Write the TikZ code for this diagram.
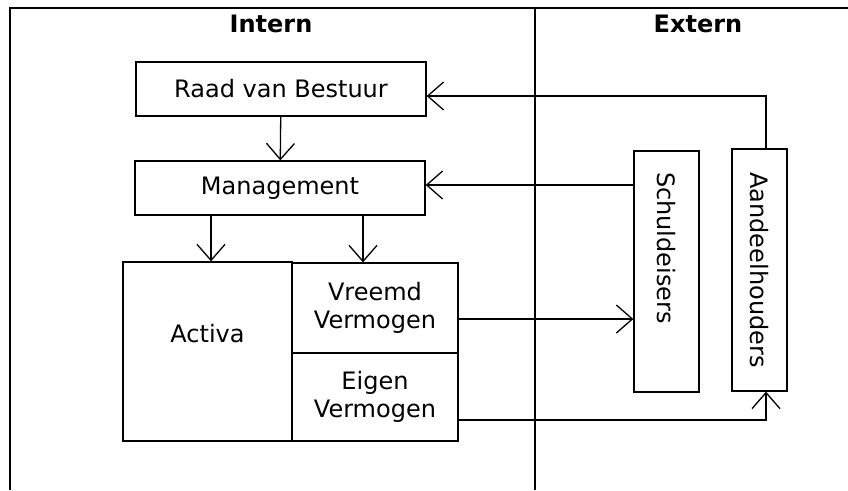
\documentclass[tikz,border=0pt]{standalone}
\usepackage{fontspec}
\setmainfont{DejaVu Sans}
\usetikzlibrary{positioning, arrows.meta}

\begin{document}
\begin{tikzpicture}[x=1pt, y=-1pt, font=\fontsize{24}{28}\selectfont,
    box/.style={rectangle, draw, line width=1.3pt, inner sep=0pt, align=center},
    side/.style={box, rotate=-90},
    head/.style={font=\fontsize{24}{28}\selectfont\bfseries},
    flow/.style={-{Straight Barb[length=16pt, width=28pt, line width=1.3pt]}, line width=1.3pt}]

  \useasboundingbox (0,0) rectangle (848,490);
  % frame
  \draw[line width=2.2pt] (10,490) -- (10,8) -- (848,8);
  \draw[line width=2.2pt] (535,8) -- (535,490);
  \node[head] (intern) at (271,24) {Intern};
  \node[head] (extern) at (698,24) {Extern};

  \node[box, minimum width=290pt, minimum height=54pt] (raad) at (281,89) {Raad van Bestuur};
  \node[box, minimum width=290pt, minimum height=54pt] (mgmt) at (280,188) {Management};
  \node[box, minimum width=169pt, minimum height=179pt, text depth=36pt] (activa) at (207.5,351.5) {Activa};
  \node[box, minimum width=166pt, minimum height=90pt] (vreemd) at (375,308) {Vreemd\\Vermogen};
  \node[box, minimum width=166pt, minimum height=88pt] (eigen) at (375,397) {Eigen\\Vermogen};
  \node[side, minimum height=65pt, text width=199pt, align=left, inner xsep=21pt] (schuld) at (666.5,271.5) {Schuldeisers};
  \node[side, minimum width=242pt, minimum height=55pt] (aandeel) at (759.5,270) {Aandeelhouders};

  \coordinate (top) at (766,96);
  \coordinate (bot) at (766,420);

  \draw[flow] (raad) -- (mgmt);
  \draw[flow] (mgmt.south -| 211,0) -- (activa.north -| 211,0);
  \draw[flow] (mgmt.south -| 363,0) -- (vreemd.north -| 363,0);
  \draw[flow] (aandeel.west -| top) -- (top) -- (raad.east |- top);
  \draw[flow] (schuld.south |- 0,185) -- (mgmt.east |- 0,185);
  \draw[flow] (vreemd.east |- 0,319) -- (schuld.south |- 0,319);
  \draw[flow] (eigen.east |- bot) -- (bot) -- (aandeel.east -| bot);
\end{tikzpicture}
\end{document}
